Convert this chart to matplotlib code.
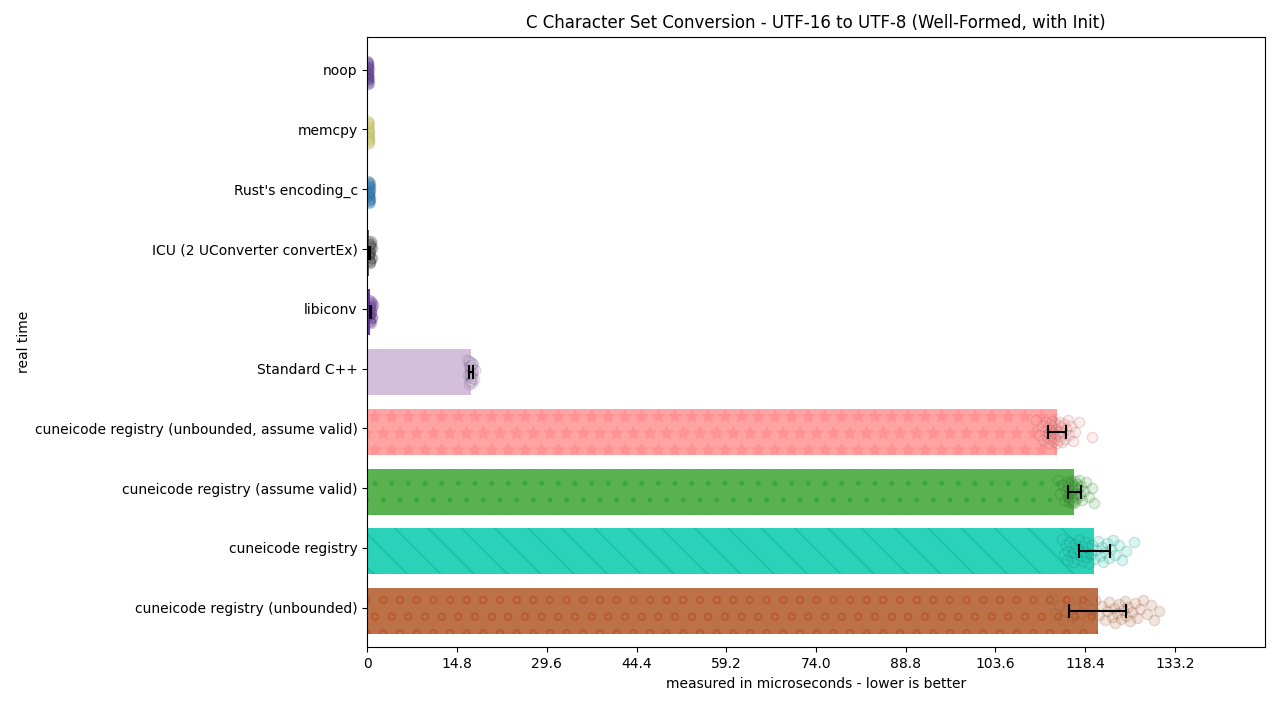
import numpy as np
import matplotlib
matplotlib.use("Agg")
import matplotlib.pyplot as plt

plt.rcParams['hatch.linewidth'] = 1.2

labels = ["noop", "memcpy", "Rust's encoding_c", "ICU (2 UConverter convertEx)",
          "libiconv", "Standard C++", "cuneicode registry (unbounded, assume valid)",
          "cuneicode registry (assume valid)", "cuneicode registry",
          "cuneicode registry (unbounded)"]
means = [0.02, 0.02, 0.15, 0.3, 0.5, 17.1, 113.8, 116.6, 119.9, 120.5]
errors = [0.0, 0.0, 0.0, 0.2, 0.05, 0.3, 1.5, 1.1, 2.6, 4.7]

samples = [
    [0.02, 0.05, 0.08, 0.1, 0.12, 0.15, 0.2, 0.25, 0.1, 0.05, 0.08, 0.12, 0.18,
     0.05, 0.1, 0.15, 0.2, 0.06, 0.09, 0.14],
    [0.05, 0.1, 0.15, 0.2, 0.25, 0.3, 0.2, 0.1, 0.15, 0.3, 0.12, 0.18, 0.22,
     0.08, 0.14, 0.26, 0.2, 0.1, 0.16, 0.24],
    [0.1, 0.2, 0.25, 0.3, 0.35, 0.4, 0.45, 0.5, 0.3, 0.2, 0.28, 0.33, 0.38,
     0.22, 0.27, 0.42, 0.36, 0.3, 0.25, 0.4],
    [0.1, 0.2, 0.3, 0.4, 0.5, 0.6, 0.7, 0.8, 0.4, 0.3, 0.5, 0.35, 0.45, 0.55,
     0.25, 0.65, 0.4, 0.3, 0.5, 0.6],
    [0.2, 0.3, 0.4, 0.5, 0.6, 0.7, 0.8, 0.5, 0.6, 0.4, 0.9, 0.45, 0.55, 0.65,
     0.35, 0.75, 0.5, 0.6, 0.4, 0.7],
    [16.4, 16.6, 16.8, 16.9, 17.0, 17.0, 17.1, 17.1, 17.2, 17.3, 17.4, 17.6, 17.8,
     16.7, 16.9, 17.0, 17.1, 17.2, 17.2, 17.3, 17.5, 16.8, 17.0, 17.1],
    [110.3, 110.8, 111.2, 111.5, 111.7, 111.9, 112.1, 112.2, 112.4, 112.5, 112.6,
     112.7, 112.8, 112.9, 113.0, 113.1, 113.2, 113.3, 113.4, 113.5, 113.6, 113.7,
     113.8, 113.9, 114.0, 114.1, 114.2, 114.3, 114.4, 114.5, 114.7, 114.9, 115.1,
     115.3, 115.5, 115.8, 116.1, 116.4, 116.8, 117.3, 119.6],
    [113.9, 114.3, 114.7, 115.0, 115.2, 115.4, 115.5, 115.6, 115.7, 115.8, 115.8,
     115.9, 116.0, 116.0, 116.1, 116.1, 116.2, 116.2, 116.3, 116.3, 116.4, 116.4,
     116.5, 116.5, 116.6, 116.6, 116.7, 116.7, 116.8, 116.8, 116.9, 117.0, 117.1,
     117.2, 117.3, 117.5, 117.7, 117.9, 118.2, 118.6, 119.0, 119.5, 119.8],
    [114.6, 114.9, 115.2, 115.4, 115.6, 115.8, 116.0, 116.2, 116.4, 116.6, 116.8,
     117.0, 117.2, 117.4, 117.6, 117.8, 118.0, 118.2, 118.4, 118.6, 118.8, 119.0,
     119.3, 119.6, 119.9, 120.2, 120.5, 120.8, 121.1, 121.4, 121.7, 122.0, 122.3,
     122.6, 123.0, 123.4, 123.9, 124.5, 125.2, 126.5],
    [112.9, 113.5, 114.1, 114.7, 115.2, 115.7, 116.2, 116.7, 117.2, 117.7, 118.2,
     118.8, 119.4, 120.0, 120.6, 121.1, 121.6, 122.0, 122.4, 122.8, 123.1, 123.4,
     123.7, 124.0, 124.3, 124.6, 124.9, 125.2, 125.5, 125.8, 126.2, 126.6, 127.0,
     127.5, 128.0, 128.6, 129.2, 129.8, 130.6],
]

colors = ["#5b3c92", "#d2d07a", "#2276b2", "#555555", "#6a3d9a", "#d3bfdc",
          "#ffa3a3", "#5ab150", "#2bd1b9", "#bd7149"]
hatch_colors = ["#5b3c92", "#d2d07a", "#2276b2", "#555555", "#6a3d9a", "#d3bfdc",
                "#ff9393", "#3aa63e", "#14c4a6", "#b95c30"]
scatter_edges = ["#3d2070", "#a8a640", "#15507e", "#222222", "#4a2070", "#6a4a7a",
                 "#a05050", "#1a6a1a", "#128070", "#8a5a40"]
hatches = [None, None, None, None, None, None, "*", ".", "\\", "o"]

fig = plt.figure(figsize=(12.8, 7.2), dpi=100)
ax = fig.add_axes([0.287, 0.101, 0.701, 0.848])

y = np.arange(len(labels))
shift = 0.06  # marks sit a little below their tick
for i in range(len(labels)):
    yc = y[i] + shift
    ax.barh(yc, means[i], height=0.77, color=colors[i], edgecolor=hatch_colors[i],
            linewidth=0, hatch=hatches[i], zorder=1)
    n = len(samples[i])
    offs = ((np.arange(n) * 0.618034) % 1 - 0.5) * 0.4
    ax.scatter(samples[i], yc + offs, s=55, facecolor=colors[i],
               edgecolor=scatter_edges[i], alpha=0.19, linewidth=1, zorder=2)
    if errors[i] > 0:
        ax.errorbar(means[i], yc, xerr=errors[i], color="black", capsize=5,
                    elinewidth=1.5, capthick=1.5, fmt="none", zorder=3)

ax.set_yticks(y)
ax.set_yticklabels(labels)
ax.set_ylim(9.664, -0.552)
ax.set_xlim(0, 148)
ax.set_xticks(np.arange(10) * 14.8)
ax.set_xticklabels(["0", "14.8", "29.6", "44.4", "59.2", "74.0", "88.8", "103.6",
                    "118.4", "133.2"])
ax.set_xlabel("measured in microseconds - lower is better")
ax.set_ylabel("real time")
ax.set_title("C Character Set Conversion - UTF-16 to UTF-8 (Well-Formed, with Init)")
ax.yaxis.set_label_coords(-0.375, 0.5)

fig.savefig("out.png", dpi=100)
